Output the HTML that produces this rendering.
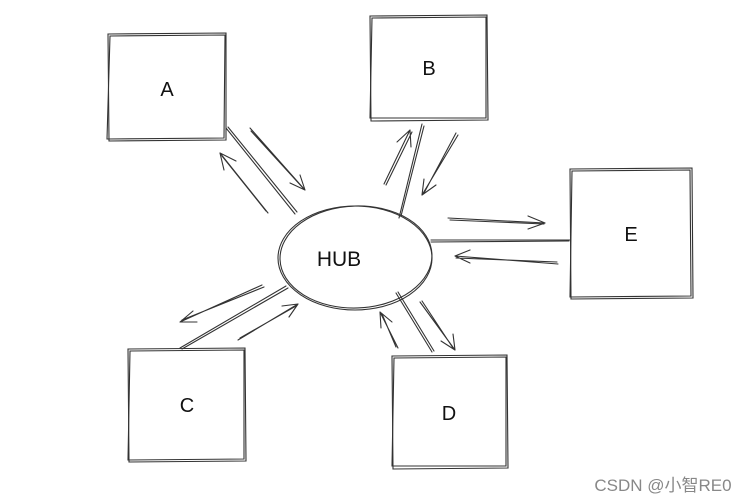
<!DOCTYPE html>
<html><head><meta charset="utf-8"><style>
html,body{margin:0;padding:0;background:#fff;width:752px;height:503px;overflow:hidden}
svg{display:block}
text{font-family:"Comic Sans MS","Liberation Sans",sans-serif;fill:#111}
</style></head><body>
<svg width="752" height="503" viewBox="0 0 752 503" xmlns="http://www.w3.org/2000/svg">
<g fill="none" stroke="#333" stroke-width="1.1" stroke-linecap="round">
<path d="M108 34 L226 33 L226 140 L109 141 Z"/><path d="M110 36 L225 35 L224 138 L107 139 Z"/>
<path d="M370 16 L487 15 L488 120 L371 121 Z"/><path d="M372 18 L486 17 L486 118 L370 118 Z"/>
<path d="M570 169 L692 168 L693 298 L571 299 Z"/><path d="M572 171 L690 170 L691 296 L570 297 Z"/>
<path d="M128 349 L245 348 L246 461 L129 462 Z"/><path d="M130 351 L244 350 L244 459 L128 460 Z"/>
<path d="M392 356 L507 355 L508 468 L393 469 Z"/><path d="M394 358 L506 357 L506 466 L392 466 Z"/>
<ellipse cx="355" cy="258" rx="77" ry="52"/>
<ellipse cx="356" cy="257" rx="76" ry="51" transform="rotate(-2 356 257)"/>
<path d="M226 128 L295 214"/><path d="M228 127 L297 212"/>
<path d="M422 124 L399 218"/><path d="M424 126 L401 216"/>
<path d="M431 240 L570 240"/><path d="M431 242 L569 241"/>
<path d="M180 348 L286 286"/><path d="M182 349 L288 288"/>
<path d="M396 293 L432 352"/><path d="M398 292 L434 351"/>
<path d="M250 128 L305 190 M251 131 L303 188 M305 190 L290 183 M305 190 L300 175"/>
<path d="M268 213 L220 153 M266 211 L222 156 M220 153 L236 161 M220 153 L224 170"/>
<path d="M384 184 L410 130 M386 185 L412 132 M410 130 L397 142 M410 130 L411 147"/>
<path d="M458 135 L422 195 M456 133 L424 193 M422 195 L424 179 M422 195 L436 185"/>
<path d="M448 218 L545 223 M450 220 L544 224 M545 223 L528 216 M545 223 L528 229"/>
<path d="M558 264 L455 256 M557 262 L456 258 M455 256 L470 250 M455 256 L470 263"/>
<path d="M262 285 L180 322 M264 287 L182 320 M180 322 L193 311 M180 322 L197 322"/>
<path d="M238 340 L298 304 M240 338 L296 306 M298 304 L282 306 M298 304 L289 317"/>
<path d="M420 302 L455 350 M422 301 L453 348 M455 350 L441 341 M455 350 L453 334"/>
<path d="M398 348 L380 312 M396 347 L382 314 M380 312 L381 328 M380 312 L392 322"/>
</g>
<text x="167" y="96" font-size="20" text-anchor="middle">A</text>
<text x="429" y="75" font-size="20" text-anchor="middle">B</text>
<text x="631" y="241" font-size="20" text-anchor="middle">E</text>
<text x="187" y="412" font-size="20" text-anchor="middle">C</text>
<text x="449" y="420" font-size="20" text-anchor="middle">D</text>
<text x="339" y="266" font-size="21" text-anchor="middle">HUB</text>
<text x="663" y="491" font-size="17" text-anchor="middle" style="font-family:'Liberation Sans','Noto Sans CJK SC',sans-serif;fill:#888">CSDN @小智RE0</text>
</svg>
</body></html>
